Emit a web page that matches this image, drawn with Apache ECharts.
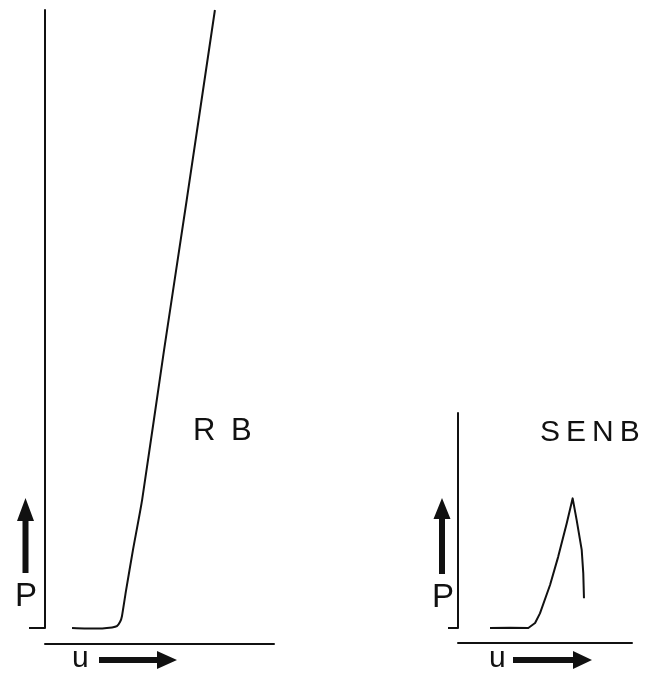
<!DOCTYPE html>
<html>
<head>
<meta charset="utf-8">
<script src="https://cdn.jsdelivr.net/npm/echarts@6/dist/echarts.min.js"></script>
<style>
  html, body { margin: 0; padding: 0; background: #fff; }
  #chart { width: 654px; height: 674px; }
</style>
</head>
<body>
<div id="chart"></div>
<script>
// ---- Data (displacement u vs load P, arbitrary units 0..100) ----
const rbU   = [11.8, 21.8, 29.3, 31.4, 32.8, 33.6, 35.4, 38.4, 42.4, 52.0, 61.9, 74.2];
const rbP   = [0, -0.1, 0.1, 0.3, 1.0, 1.9, 6.1, 12.6, 20.7, 45.0, 69.3, 100];
const senbU = [18.4, 30, 40.4, 44.3, 47.1, 52.9, 57.6, 62.5, 65.9, 68.2, 71.1, 72.0, 72.4];
const senbP = [0, 0.1, 0, 2.3, 6.8, 20.0, 33.2, 48.7, 60.3, 50.2, 36.3, 25.4, 13.8];
const panelLabels = ['R\u2002B', 'S\u2009E\u2009N\u2009B'];
const axisNames = ['P', 'u'];

const pairs = (xs, ys) => xs.map((x, i) => [x, ys[i]]);
const FONT = '"Liberation Sans", Arial, sans-serif';
const INK = '#111';

function xAx(gi, off) {
  return {
    gridIndex: gi, type: 'value', min: 0, max: 100, offset: off,
    axisLine: { show: true, onZero: false, lineStyle: { color: INK, width: 2 } },
    axisTick: { show: false }, axisLabel: { show: false }, splitLine: { show: false }
  };
}
function yAx(gi, tickLen) {
  return {
    gridIndex: gi, type: 'value', min: 0, max: 100,
    axisLine: { show: true, onZero: false, lineStyle: { color: INK, width: 2 } },
    axisTick: { show: true, length: tickLen, customValues: [0], lineStyle: { color: INK, width: 2 } },
    axisLabel: { show: false }, splitLine: { show: false }
  };
}

function upArrow(cx, tip, base, bottom, hw, sw) {
  return {
    type: 'polygon', silent: true,
    shape: { points: [[cx, tip], [cx + hw, base], [cx + sw, base], [cx + sw, bottom],
                      [cx - sw, bottom], [cx - sw, base], [cx - hw, base]] },
    style: { fill: INK }
  };
}
function rightArrow(cy, start, headStart, tip, hh, sw) {
  return {
    type: 'polygon', silent: true,
    shape: { points: [[start, cy - sw], [headStart, cy - sw], [headStart, cy - hh], [tip, cy],
                      [headStart, cy + hh], [headStart, cy + sw], [start, cy + sw]] },
    style: { fill: INK }
  };
}
function txt(x, y, s, size) {
  return {
    type: 'text', silent: true, x: x, y: y,
    style: { text: s, fill: INK, font: size + 'px ' + FONT, textAlign: 'left', textVerticalAlign: 'middle' }
  };
}

const chart = echarts.init(document.getElementById('chart'), null, { renderer: 'canvas' });
chart.setOption({
  animation: false,
  backgroundColor: '#fff',
  grid: [
    { left: 45, right: 380, top: 10, bottom: 46 },
    { left: 458, right: 22, top: 413, bottom: 46 }
  ],
  xAxis: [xAx(0, 16), xAx(1, 15)],
  yAxis: [yAx(0, 16), yAx(1, 10)],
  series: [
    { type: 'line', xAxisIndex: 0, yAxisIndex: 0, data: pairs(rbU, rbP), symbol: 'none',
      smooth: 0.15, lineStyle: { color: INK, width: 2 }, clip: false },
    { type: 'line', xAxisIndex: 1, yAxisIndex: 1, data: pairs(senbU, senbP), symbol: 'none',
      smooth: false, lineStyle: { color: INK, width: 2, join: 'round' }, clip: false }
  ],
  graphic: [
    upArrow(25.5, 498, 521, 573, 8.5, 3),
    upArrow(442, 498, 519, 574, 8.5, 3),
    rightArrow(660, 99, 157, 177, 9, 3),
    rightArrow(660, 513, 573, 592, 9, 3),
    txt(15, 597, axisNames[0], 33),
    txt(432, 598, axisNames[0], 33),
    txt(72, 659, axisNames[1], 30),
    txt(489, 659, axisNames[1], 30),
    txt(193, 431, panelLabels[0], 31),
    txt(540, 433, panelLabels[1], 30)
  ]
});
</script>
</body>
</html>
